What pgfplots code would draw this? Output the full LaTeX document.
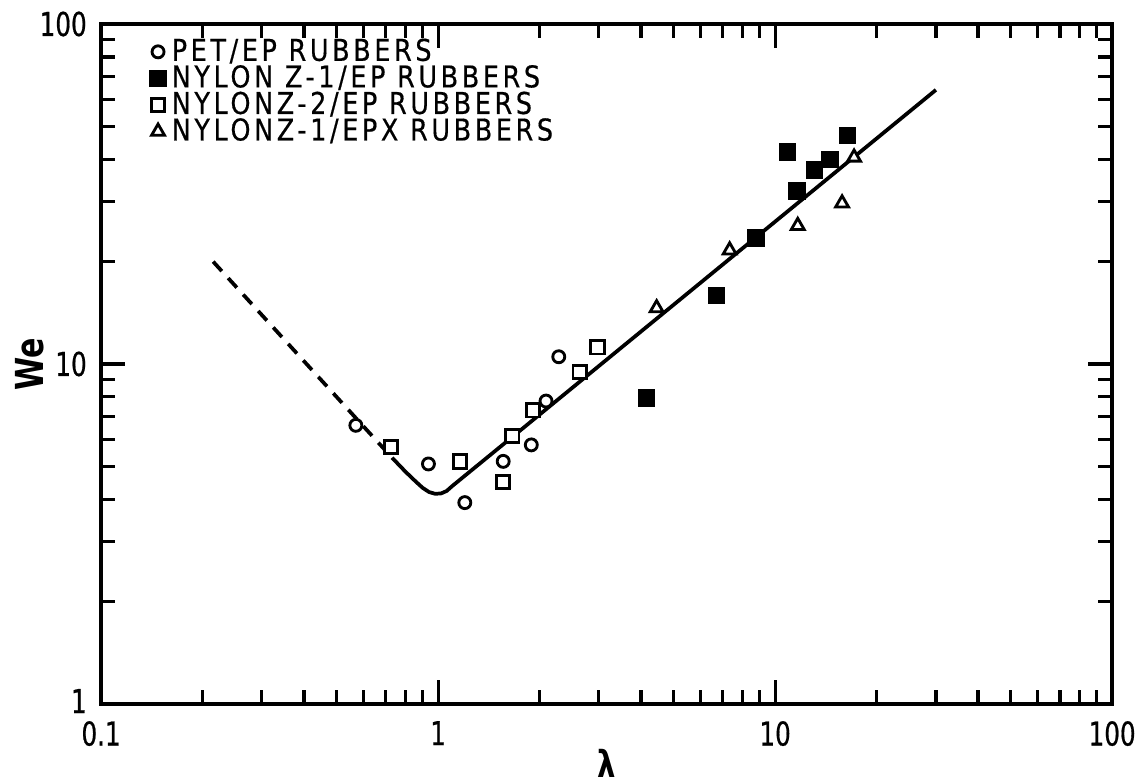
\documentclass[border=0pt]{standalone}
\usepackage{pgfplots}
\pgfplotsset{compat=1.18}
\usepackage{fontspec}
\setmainfont{DejaVu Sans}
\newfontfamily\tickfont[FakeStretch=0.75,FakeBold=0.6]{DejaVu Sans}
\newfontfamily\legfont[FakeStretch=0.85,LetterSpace=12,FakeBold=0.5]{DejaVu Sans}
\newfontfamily\labfont[FakeStretch=0.78]{DejaVu Sans Bold}
\begin{document}
\begin{tikzpicture}
\begin{axis}[
  scale only axis,
  width=353.9pt, height=238pt,
  xmode=log, ymode=log,
  xmin=0.1, xmax=100, ymin=1, ymax=100,
  xtick={0.1,1,10,100}, xticklabels={0.1,1,10,100},
  ytick={1,10,100}, yticklabels={\raisebox{2pt}{1},10,\raisebox{-2.5pt}{100}},
  minor xtick={0.2,0.3,0.4,0.5,0.6,0.7,0.8,0.9,2,3,4,5,6,7,8,9,20,30,40,50,60,70,80,90},
  minor ytick={2,3,4,5,6,7,8,9,20,30,40,50,60,70,80,90},
  tick align=inside,
  major tick length=8.5pt, minor tick length=4.8pt,
  every tick/.style={black, line width=1.1pt},
  axis line style={line width=1.6pt},
  /pgf/number format/assume math mode=true,
  tick label style={font=\tickfont\fontsize{11.5}{12}\selectfont},
  xticklabel style={yshift=-2.5pt},
  yticklabel style={xshift=-1.5pt},
  xlabel={\labfont\fontsize{13}{14}\selectfont λ},
  ylabel={\labfont\fontsize{13.5}{14}\selectfont We},
  xlabel style={at={(rel axis cs:0.5,-0.0882)}, anchor=center},
  ylabel style={at={(rel axis cs:-0.0706,0.5)}, anchor=center},
  legend style={draw=none, fill=none, at={(rel axis cs:0.045,0.992)}, anchor=north west,
    font=\legfont\fontsize{10.5}{11}\selectfont, row sep=-4pt, inner sep=1pt,
    /tikz/every even column/.append style={column sep=4pt}},
  legend cell align=left,
  clip=false,
]
% fit lines
\addplot[forget plot, black, line width=1.3pt, dash pattern=on 4.5pt off 3.3pt] coordinates {
  (0.215,20) (0.73,5.3)
};
\addplot[forget plot, black, line width=1.3pt, line join=round] coordinates {
  (0.73,5.3) (0.8,4.82) (0.86,4.5) (0.9,4.32) (0.94,4.2) (0.98,4.15) (1.02,4.16) (1.06,4.23) (1.1,4.37) (1.66,6.1) (30,64)
};
% data
\addplot[only marks, mark=*, mark size=2.1pt, mark options={fill=white, draw=black, line width=1pt}] coordinates {
  (0.57,6.6) (0.936,5.08) (1.20,3.91) (1.56,5.17) (1.89,5.78) (2.09,7.78) (2.28,10.5)
};
\addlegendentry{PET/EP RUBBERS}
\addplot[only marks, mark=square*, mark size=2.8pt, mark options={fill=black, draw=black, line width=0.5pt}] coordinates {
  (4.16,7.95) (6.69,15.9) (8.78,23.5) (10.86,42.0) (11.6,32.3) (13.1,37.2) (14.55,40.0) (16.4,47.0)
};
\addlegendentry{NYLON Z-1/EP RUBBERS}
\addplot[only marks, mark=square*, mark size=2.35pt, mark options={fill=white, draw=black, line width=1pt}] coordinates {
  (0.725,5.7) (1.16,5.17) (1.56,4.49) (1.66,6.14) (1.91,7.31) (2.63,9.48) (2.97,11.2)
};
\addlegendentry{NYLONZ-2/EP RUBBERS}
\addplot[only marks, mark=triangle*, mark size=2.6pt, mark options={fill=white, draw=black, line width=1pt}] coordinates {
  (4.45,14.6) (7.33,21.6) (11.67,25.5) (15.8,29.7) (17.15,40.5)
};
\addlegendentry{NYLONZ-1/EPX RUBBERS}
\coordinate (SW) at (rel axis cs:0,0);
\coordinate (NE) at (rel axis cs:1,1);
\end{axis}
\pgfresetboundingbox
\path[use as bounding box] ([xshift=-35.4pt,yshift=-28pt]SW) rectangle ([xshift=10.1pt,yshift=8.4pt]NE);
\end{tikzpicture}
\end{document}
